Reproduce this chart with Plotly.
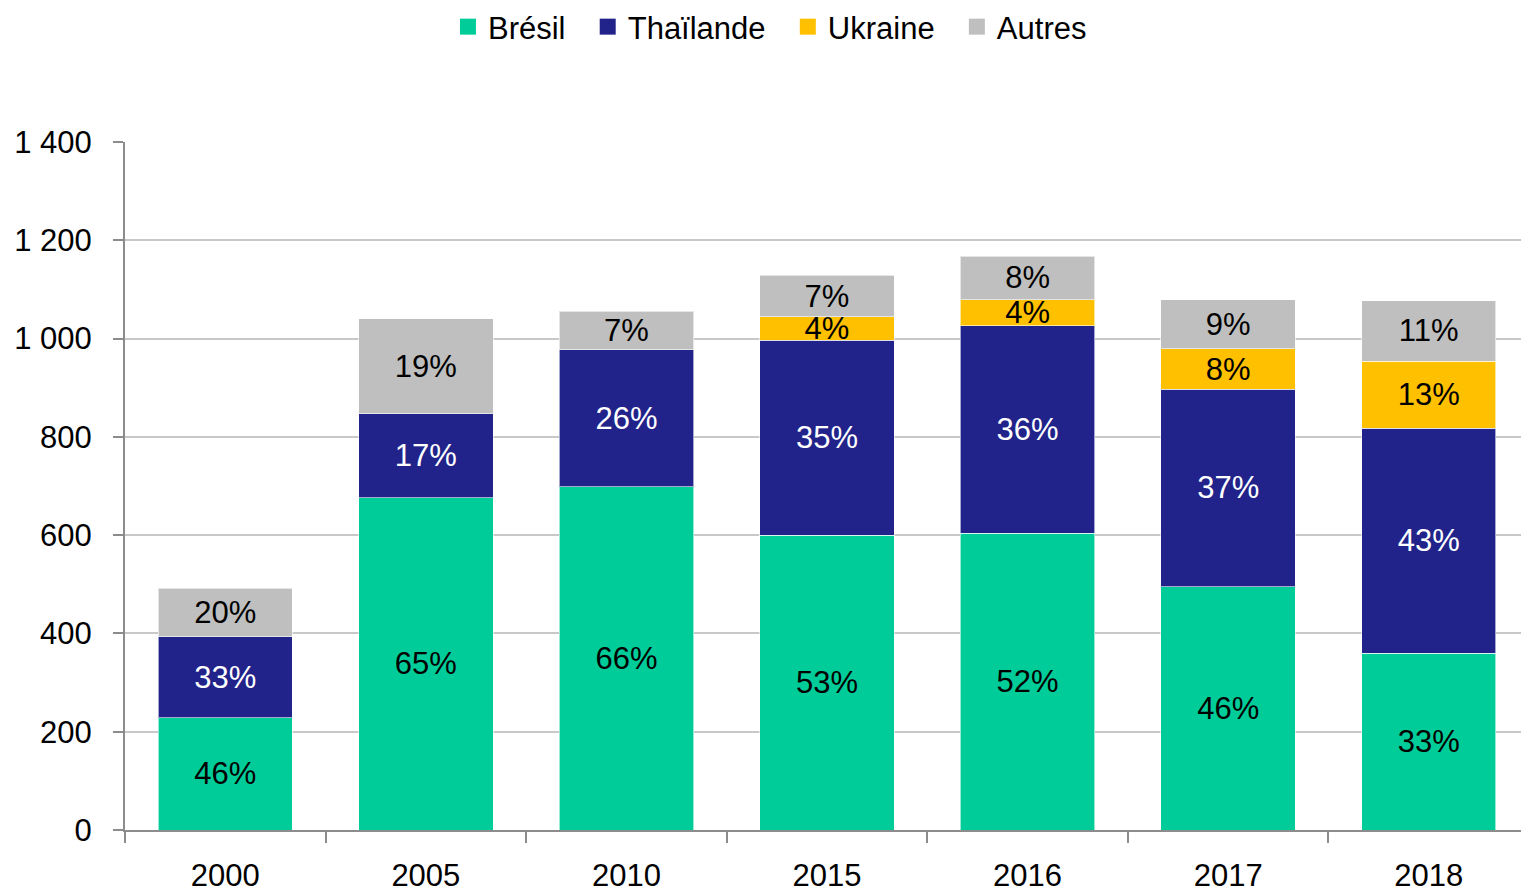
import plotly.graph_objects as go

years = ["2000", "2005", "2010", "2015", "2016", "2017", "2018"]
bresil = [228, 676, 698, 600, 604, 495, 360]
thailande = [165, 171, 279, 397, 422, 402, 458]
ukraine = [0, 0, 0, 47, 53, 82, 136]
autres = [99, 193, 79, 85, 89, 100, 123]

lbl_bresil = ["46%", "65%", "66%", "53%", "52%", "46%", "33%"]
lbl_thailande = ["33%", "17%", "26%", "35%", "36%", "37%", "43%"]
lbl_ukraine = ["", "", "", "4%", "4%", "8%", "13%"]
lbl_autres = ["20%", "19%", "7%", "7%", "8%", "9%", "11%"]

y_tickvals = [0, 200, 400, 600, 800, 1000, 1200, 1400]
y_ticktext = ["0", "200", "400", "600", "800", "1 000", "1 200", "1 400"]

FONT = "Liberation Sans, Arial, sans-serif"
FS = 31
PAD = "\u00a0\u00a0"

series = [
    ("Brésil", bresil, lbl_bresil, "#00CC99", "black"),
    ("Thaïlande", thailande, lbl_thailande, "#21238A", "white"),
    ("Ukraine", ukraine, lbl_ukraine, "#FFC000", "black"),
    ("Autres", autres, lbl_autres, "#BFBFBF", "black"),
]

fig = go.Figure()
for name, vals, lbls, col, tcol in series:
    fig.add_trace(go.Bar(
        x=years, y=vals, name=name, text=lbls,
        textposition="inside", insidetextanchor="middle",
        constraintext="none", textangle=0,
        textfont=dict(family=FONT, size=FS, color=tcol),
        marker=dict(color=col, line=dict(color="rgba(255,255,255,0.6)", width=1)),
        showlegend=False, hoverinfo="skip",
    ))
for i, (name, vals, lbls, col, tcol) in enumerate(series):
    fig.add_trace(go.Scatter(
        x=[None], y=[None], mode="markers",
        name=name + (PAD if i < len(series) - 1 else ""),
        marker=dict(symbol="square", size=19, color=col),
        showlegend=True,
    ))

fig.update_layout(
    barmode="stack",
    bargap=0.33,
    width=1521, height=892,
    margin=dict(l=125, r=0, t=142, b=62),
    paper_bgcolor="white", plot_bgcolor="white",
    font=dict(family=FONT, size=FS, color="black"),
    legend=dict(orientation="h", x=0.462, xanchor="center", y=1.0, yref="container",
                yanchor="top", font=dict(family=FONT, size=FS), itemwidth=30,
                traceorder="normal", tracegroupgap=0, bgcolor="rgba(0,0,0,0)"),
)
fig.update_xaxes(
    type="category", range=[-0.5, 6.46], showline=True, linecolor="#8C8C8C", linewidth=2,
    ticks="outside", tickson="boundaries", ticklen=11, tickcolor="#8C8C8C", tickwidth=2,
    showgrid=False, tickfont=dict(family=FONT, size=FS), ticklabelstandoff=17,
    automargin=False,
)
fig.update_yaxes(
    range=[0, 1400], tickvals=y_tickvals, ticktext=y_ticktext,
    showline=True, linecolor="#8C8C8C", linewidth=2,
    ticks="outside", ticklen=10, tickcolor="#8C8C8C", tickwidth=2,
    showgrid=True, gridcolor="#C8C8C8", gridwidth=2, zeroline=False,
    tickfont=dict(family=FONT, size=FS), ticklabelstandoff=15,
    automargin=False,
)

fig.write_html("out.html", config={"displayModeBar": False},
               post_script="document.body.style.margin='0';")
